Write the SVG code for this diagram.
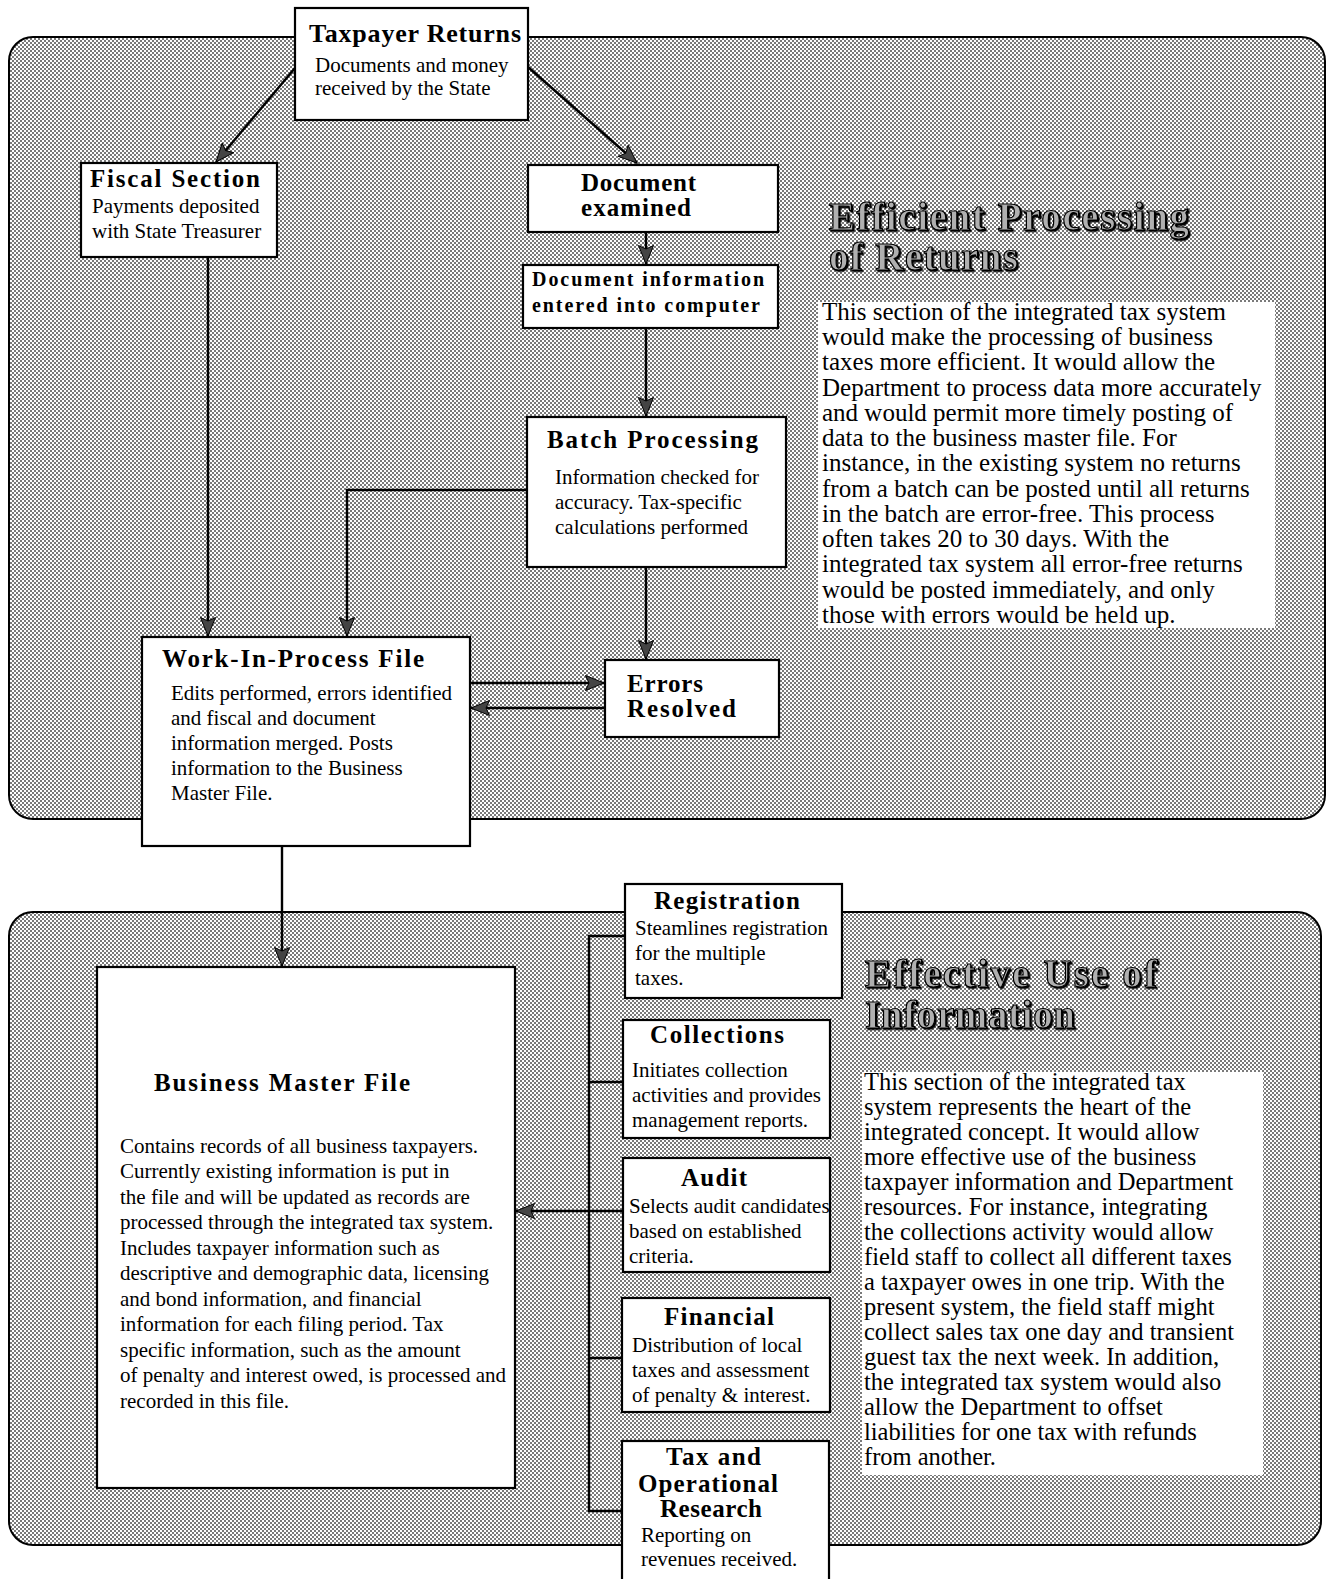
<svg xmlns="http://www.w3.org/2000/svg" width="1328" height="1579" viewBox="0 0 1328 1579">
<defs>
<pattern id="dots" width="4" height="4" patternUnits="userSpaceOnUse">
<rect width="4" height="4" fill="#fff"/>
<rect width="2" height="2" fill="#7a7a7a"/>
<rect x="2" y="2" width="2" height="2" fill="#7a7a7a"/>
</pattern>
<marker id="arr" markerUnits="userSpaceOnUse" markerWidth="20" markerHeight="16" refX="19" refY="8" orient="auto">
<path d="M0.5,0.5 L19,8 L0.5,15.5 L4,8 Z" fill="#444" stroke="#000" stroke-width="1"/>
</marker>
<filter id="sh" x="-5%" y="-10%" width="115%" height="130%">
<feDropShadow dx="1.5" dy="1.5" stdDeviation="0" flood-color="#000"/>
</filter>
</defs>
<style>
.panel{fill:url(#dots);stroke:#000;stroke-width:2}
.box{fill:#fff;stroke:#000;stroke-width:2.2}
.desc{fill:#fff;stroke:none}
.t{font-family:"Liberation Serif","Times New Roman",serif;font-weight:bold;font-size:25px;fill:#000}
.b{font-family:"Liberation Serif","Times New Roman",serif;font-size:21px;fill:#000}
.d{font-family:"Liberation Serif","Times New Roman",serif;font-size:25px;fill:#000}
.h{font-family:"Liberation Serif","Times New Roman",serif;font-weight:bold;font-size:39px;fill:#b0b0b0;stroke:#000;stroke-width:1.2;filter:url(#sh)}
.c{fill:none;stroke:#000;stroke-width:2.4}
</style>
<rect width="1328" height="1579" fill="#fff"/>

<g id="panel-top">
<rect class="panel" x="9" y="37" width="1316" height="782" rx="24"/>
<text class="h" x="829" y="230" textLength="360" lengthAdjust="spacing">Efficient Processing</text>
<text class="h" x="829" y="270" textLength="189" lengthAdjust="spacing">of Returns</text>
<rect class="desc" x="818" y="302" width="457" height="326"/>
<g class="d">
<text x="822" y="320">This section of the integrated tax system</text>
<text x="822" y="345">would make the processing of business</text>
<text x="822" y="370">taxes more efficient.  It would allow the</text>
<text x="822" y="396">Department to process data more accurately</text>
<text x="822" y="421">and would permit more timely posting of</text>
<text x="822" y="446">data to the business master file.  For</text>
<text x="822" y="471">instance, in the existing system no returns</text>
<text x="822" y="497">from a batch can be posted until all  returns</text>
<text x="822" y="522">in the batch are error-free. This process</text>
<text x="822" y="547">often takes 20 to 30 days.  With the</text>
<text x="822" y="572">integrated tax system all error-free returns</text>
<text x="822" y="598">would be posted immediately, and only</text>
<text x="822" y="623">those with errors would be held up.</text>
</g>
</g>

<g id="panel-bottom">
<rect class="panel" x="9" y="912" width="1312" height="633" rx="24"/>
<text class="h" x="865" y="987" textLength="292" lengthAdjust="spacing">Effective Use of</text>
<text class="h" x="865" y="1028" textLength="210" lengthAdjust="spacing">Information</text>
<rect class="desc" x="862" y="1072" width="401" height="403"/>
<g class="d" style="font-size:24.5px">
<text x="864" y="1090">This section of the integrated tax</text>
<text x="864" y="1115">system represents the heart of the</text>
<text x="864" y="1140">integrated concept. It would allow</text>
<text x="864" y="1165">more effective use of the business</text>
<text x="864" y="1190">taxpayer information and Department</text>
<text x="864" y="1215">resources.  For instance, integrating</text>
<text x="864" y="1240">the collections activity would allow</text>
<text x="864" y="1265">field staff to collect all different taxes</text>
<text x="864" y="1290">a taxpayer owes in one trip.  With the</text>
<text x="864" y="1315">present system, the field staff might</text>
<text x="864" y="1340">collect sales tax one day and transient</text>
<text x="864" y="1365">guest tax the next week.  In addition,</text>
<text x="864" y="1390">the integrated tax system would also</text>
<text x="864" y="1415">allow the Department to offset</text>
<text x="864" y="1440">liabilities for one tax with refunds</text>
<text x="864" y="1465">from another.</text>
</g>
</g>

<g id="connectors">
<path class="c" d="M295,68 L216,162" marker-end="url(#arr)"/>
<path class="c" d="M528,67 L637,163" marker-end="url(#arr)"/>
<path class="c" d="M208,257 V636" marker-end="url(#arr)"/>
<path class="c" d="M646,232 V264" marker-end="url(#arr)"/>
<path class="c" d="M646,328 V416" marker-end="url(#arr)"/>
<path class="c" d="M527,490 H347 V636" marker-end="url(#arr)"/>
<path class="c" d="M646,567 V659" marker-end="url(#arr)"/>
<path class="c" d="M470,683 H604" marker-end="url(#arr)"/>
<path class="c" d="M605,708 H471" marker-end="url(#arr)"/>
<path class="c" d="M282,846 V966" marker-end="url(#arr)"/>
<path class="c" d="M625,936 H589 V1511 H622"/>
<path class="c" d="M589,1082 H623"/>
<path class="c" d="M589,1358 H622"/>
<path class="c" d="M623,1211 H589"/>
<path class="c" d="M589,1211 H516" marker-end="url(#arr)"/>
</g>

<g id="taxpayer-returns">
<rect class="box" x="295" y="8" width="233" height="112"/>
<text class="t" x="309" y="42" textLength="212" lengthAdjust="spacing" style="font-size:26px">Taxpayer Returns</text>
<text class="b" x="315" y="72">Documents and money</text>
<text class="b" x="315" y="95">received by the State</text>
</g>

<g id="fiscal-section">
<rect class="box" x="81" y="163" width="196" height="94"/>
<text class="t" x="90" y="187" textLength="170" lengthAdjust="spacing">Fiscal Section</text>
<text class="b" x="92" y="213">Payments deposited</text>
<text class="b" x="92" y="238">with State Treasurer</text>
</g>

<g id="document-examined">
<rect class="box" x="528" y="165" width="250" height="67"/>
<text class="t" x="581" y="191" textLength="115" lengthAdjust="spacing">Document</text>
<text class="t" x="581" y="216" textLength="110" lengthAdjust="spacing">examined</text>
</g>

<g id="document-information">
<rect class="box" x="523" y="265" width="255" height="63"/>
<text class="t" x="532" y="286" textLength="232" lengthAdjust="spacing" style="font-size:20px">Document information</text>
<text class="t" x="532" y="312" textLength="228" lengthAdjust="spacing" style="font-size:20px">entered into computer</text>
</g>

<g id="batch-processing">
<rect class="box" x="527" y="417" width="259" height="150"/>
<text class="t" x="547" y="448" textLength="211" lengthAdjust="spacing">Batch Processing</text>
<text class="b" x="555" y="484">Information checked for</text>
<text class="b" x="555" y="509">accuracy.  Tax-specific</text>
<text class="b" x="555" y="534">calculations performed</text>
</g>

<g id="work-in-process-file">
<rect class="box" x="142" y="637" width="328" height="209"/>
<text class="t" x="162" y="667" textLength="262" lengthAdjust="spacing">Work-In-Process File</text>
<text class="b" x="171" y="700">Edits performed, errors identified</text>
<text class="b" x="171" y="725">and fiscal and document</text>
<text class="b" x="171" y="750">information merged.  Posts</text>
<text class="b" x="171" y="775">information to the Business</text>
<text class="b" x="171" y="800">Master File.</text>
</g>

<g id="errors-resolved">
<rect class="box" x="605" y="660" width="174" height="77"/>
<text class="t" x="627" y="692" textLength="76" lengthAdjust="spacing">Errors</text>
<text class="t" x="627" y="717" textLength="109" lengthAdjust="spacing">Resolved</text>
</g>

<g id="business-master-file">
<rect class="box" x="97" y="967" width="418" height="521"/>
<text class="t" x="154" y="1091" textLength="256" lengthAdjust="spacing">Business Master File</text>
<text class="b" x="120" y="1153">Contains records of all business taxpayers.</text>
<text class="b" x="120" y="1178">Currently existing information is put in</text>
<text class="b" x="120" y="1204">the file and will be updated as records are</text>
<text class="b" x="120" y="1229">processed through the integrated tax system.</text>
<text class="b" x="120" y="1255">Includes taxpayer information such as</text>
<text class="b" x="120" y="1280">descriptive and demographic data, licensing</text>
<text class="b" x="120" y="1306">and bond information, and financial</text>
<text class="b" x="120" y="1331">information for each filing period.  Tax</text>
<text class="b" x="120" y="1357">specific information, such as the amount</text>
<text class="b" x="120" y="1382">of penalty and interest owed, is processed and</text>
<text class="b" x="120" y="1408">recorded in this file.</text>
</g>

<g id="registration">
<rect class="box" x="625" y="884" width="217" height="114"/>
<text class="t" x="654" y="909" textLength="146" lengthAdjust="spacing">Registration</text>
<text class="b" x="635" y="935">Steamlines registration</text>
<text class="b" x="635" y="960">for the multiple</text>
<text class="b" x="635" y="985">taxes.</text>
</g>

<g id="collections">
<rect class="box" x="623" y="1020" width="207" height="118"/>
<text class="t" x="650" y="1043" textLength="134" lengthAdjust="spacing">Collections</text>
<text class="b" x="632" y="1077">Initiates collection</text>
<text class="b" x="632" y="1102">activities and provides</text>
<text class="b" x="632" y="1127">management reports.</text>
</g>

<g id="audit">
<rect class="box" x="623" y="1158" width="207" height="114"/>
<text class="t" x="681" y="1186" textLength="66" lengthAdjust="spacing">Audit</text>
<text class="b" x="629" y="1213">Selects audit candidates</text>
<text class="b" x="629" y="1238">based on established</text>
<text class="b" x="629" y="1263">criteria.</text>
</g>

<g id="financial">
<rect class="box" x="622" y="1298" width="208" height="114"/>
<text class="t" x="664" y="1325" textLength="110" lengthAdjust="spacing">Financial</text>
<text class="b" x="632" y="1352">Distribution of local</text>
<text class="b" x="632" y="1377">taxes and assessment</text>
<text class="b" x="632" y="1402">of penalty &amp; interest.</text>
</g>

<g id="tax-and-operational-research">
<rect class="box" x="622" y="1441" width="207" height="150"/>
<text class="t" x="666" y="1465" textLength="95" lengthAdjust="spacing">Tax and</text>
<text class="t" x="638" y="1492" textLength="140" lengthAdjust="spacing">Operational</text>
<text class="t" x="660" y="1517" textLength="102" lengthAdjust="spacing">Research</text>
<text class="b" x="641" y="1542">Reporting on</text>
<text class="b" x="641" y="1566">revenues received.</text>
</g>
</svg>
